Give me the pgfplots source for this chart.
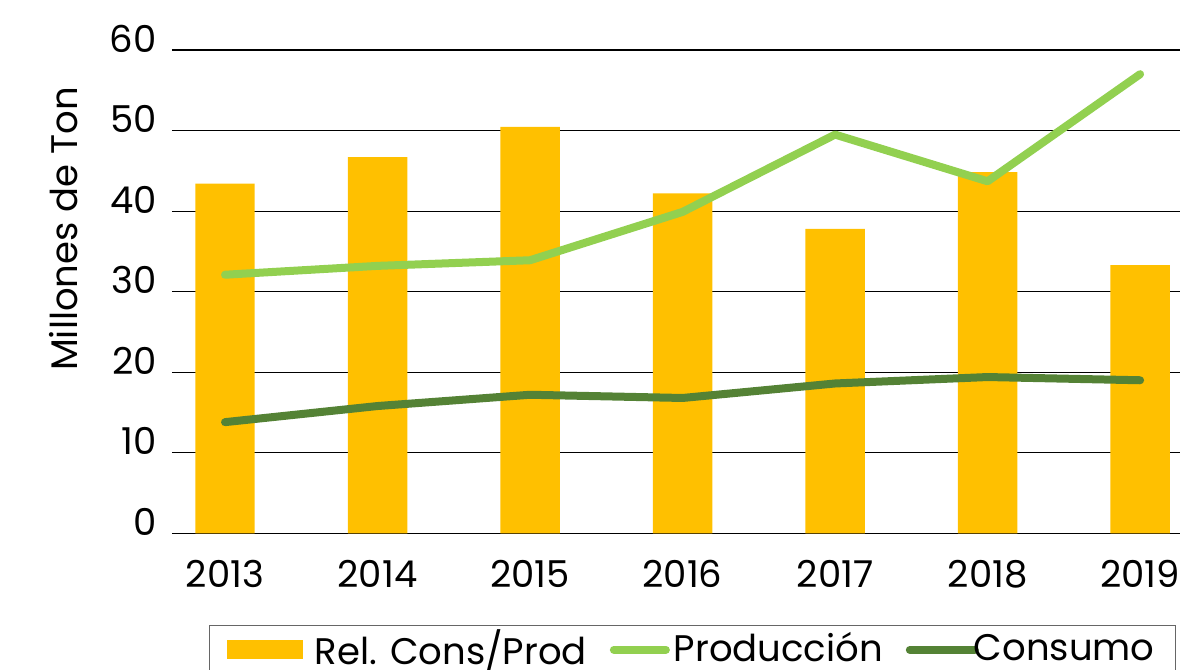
\documentclass[border=0pt]{standalone}
\usepackage{pgfplots}
\pgfplotsset{compat=1.18}
\usepackage{fontspec}
\setmainfont{Poppins}
\definecolor{gold}{HTML}{FFC000}
\definecolor{lgreen}{HTML}{92D050}
\definecolor{dgreen}{HTML}{548235}
\begin{document}
\fontsize{18.5}{22}\selectfont
\begin{tikzpicture}
\begin{axis}[
  at={(0,0)}, anchor=south west,
  scale only axis, width=526pt, height=241.65pt,
  xmin=-0.3475, xmax=6.55, ymin=0, ymax=60,
  axis line style={draw=none},
  tick style={draw=none},
  ymajorgrids, grid style={black, line width=0.6pt},
  ytick={0,10,...,60},
  xtick={0,1,2,3,4,5,6},
  xticklabels={2013,2014,2015,2016,2017,2018,2019},
  /pgf/number format/assume math mode=true,
  yticklabel style={anchor=base east, inner sep=0pt, xshift=-7.5pt, yshift=-1pt},
  xticklabel style={anchor=base, inner sep=0pt, yshift=-26.85pt},
  clip=false,
  legend columns=3,
  legend style={at={(0.0352,-0.1897)}, anchor=north west, draw=gray!80!black,
    line width=0.6pt, inner xsep=8.5pt, inner ysep=0pt,
    nodes={inner ysep=2pt},
    /tikz/every even column/.style={column sep=9.5pt}},
]
\addplot[ybar, bar width=0.39, fill=gold, draw=none,
  legend image code/.code={\fill[gold] (0pt,-4.75pt) rectangle (38pt,4.75pt); \path (42pt,0pt);}]
  coordinates {(0,43.4) (1,46.7) (2,50.45) (3,42.2) (4,37.8) (5,44.85) (6,33.3)};
\addlegendentry{Rel. Cons/Prod}
\addplot[lgreen, line width=4pt, line cap=round, line join=round,
  legend image code/.code={\draw[lgreen, line width=4pt, line cap=round] (2pt,0pt) -- (28pt,0pt);}]
  coordinates {(0,32.1) (1,33.2) (2,33.9) (3,39.9) (4,49.5) (5,43.7) (6,57.0)};
\addlegendentry{Producción}
\addplot[dgreen, line width=4pt, line cap=round, line join=round,
  legend image code/.code={\path (0pt,0pt) -- (28pt,0pt);
    \draw[overlay, dgreen, line width=4pt, line cap=round] (6.5pt,0pt) -- (32.5pt,0pt);}]
  coordinates {(0,13.8) (1,15.8) (2,17.2) (3,16.8) (4,18.6) (5,19.4) (6,19.0)};
\addlegendentry{Consumo}
\end{axis}
\node[rotate=90] at (-54pt,152.15pt) {Millones de Ton};
\pgfresetboundingbox
\useasboundingbox (-86pt,-68.35pt) rectangle (504pt,266.65pt);
\end{tikzpicture}
\end{document}
